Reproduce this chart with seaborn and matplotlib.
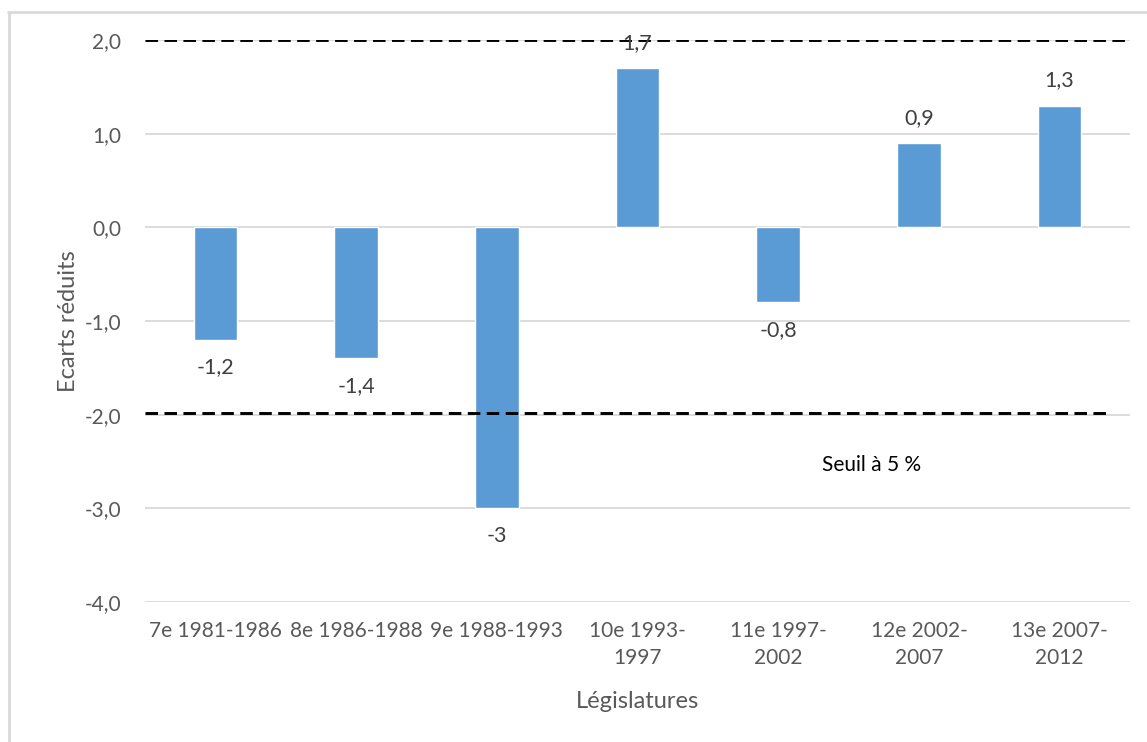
import pandas as pd
import seaborn as sns
import matplotlib.pyplot as plt
from matplotlib.lines import Line2D

# Data
legislatures = ['7e 1981-1986', '8e 1986-1988', '9e 1988-1993', '10e 1993-\n1997',
                '11e 1997-\n2002', '12e 2002-\n2007', '13e 2007-\n2012']
ecarts = [-1.2, -1.4, -3.0, 1.7, -0.8, 0.9, 1.3]
bar_labels = ['-1,2', '-1,4', '-3', '1,7', '-0,8', '0,9', '1,3']
y_ticks = [-4, -3, -2, -1, 0, 1, 2]
seuil_haut = 2.0
seuil_bas = -1.98

sns.set_style('white')
plt.rcParams['font.family'] = ['Lato', 'DejaVu Sans']

df = pd.DataFrame({'leg': legislatures, 'ecart': ecarts})

fig = plt.figure(figsize=(11.47, 7.42), dpi=100)
ax = fig.add_axes([145 / 1147, 1 - 602 / 742, (1130 - 145) / 1147, (602 - 40) / 742])

sns.barplot(data=df, x='leg', y='ecart', order=legislatures, color='#5B9BD5',
            saturation=1, width=0.31, ax=ax)

ax.set_ylim(-4, 2)
ax.set_yticks(y_ticks)
ax.set_yticklabels([f'{t:.1f}'.replace('.', ',') for t in y_ticks])
ax.yaxis.grid(True, color='#D9D9D9', linewidth=1.3)
ax.set_axisbelow(True)
for s in ax.spines.values():
    s.set_visible(False)
ax.tick_params(axis='both', length=0, labelsize=15, labelcolor='#595959')
ax.tick_params(axis='y', pad=17)
ax.tick_params(axis='x', pad=14)
for t in ax.get_xticklabels():
    t.set_linespacing(1.4)

# threshold lines
ax.axhline(seuil_haut, color='black', linestyle=(0, (4.3, 2.2)), linewidth=2.1)
ax.axhline(seuil_bas, xmax=0.977, color='black', linestyle=(0, (4.3, 2.2)), linewidth=2.1)
ax.text(4.66, -2.54, 'Seuil à 5 %', ha='center', va='center', fontsize=15, color='black')

# data labels
for i, (v, lab) in enumerate(zip(ecarts, bar_labels)):
    off = 18 if v > 0 else -20
    ax.annotate(lab, (i, v), xytext=(0, off), textcoords='offset points',
                ha='center', va='center', fontsize=15.5, color='#404040')

ax.set_xlabel('Législatures', fontsize=17, color='#595959')
ax.set_ylabel('Ecarts réduits', fontsize=17, color='#595959')
ax.xaxis.set_label_coords(0.5, -0.158)
ax.yaxis.set_label_coords(-0.067, 0.5)

# light frame of the chart area
fig.add_artist(Line2D([8 / 1147, 1], [1 - 12 / 742] * 2, color='#D9D9D9', linewidth=2))
fig.add_artist(Line2D([9 / 1147] * 2, [0, 1 - 12 / 742], color='#D9D9D9', linewidth=2))

fig.savefig('out.png', dpi=100)
